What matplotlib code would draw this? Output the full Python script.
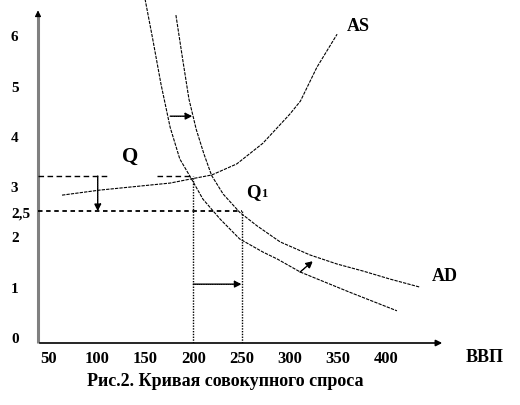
import matplotlib
matplotlib.use("Agg")
import matplotlib.pyplot as plt

# data (GDP on x, price level on y)
as_x = [64, 103, 155, 176, 197, 219, 245, 272, 300, 311, 328, 349]
as_y = [2.82, 2.92, 3.02, 3.06, 3.14, 3.22, 3.44, 3.85, 4.43, 4.69, 5.36, 6.02]

ad_x = [150, 158, 166.5, 176, 186, 197, 210, 228, 248, 272, 287, 311, 362, 411]
ad_y = [6.72, 5.92, 5.03, 4.17, 3.54, 3.18, 2.74, 2.34, 1.95, 1.69, 1.55, 1.29, 0.89, 0.52]

ad1_x = [182, 189, 195.5, 203, 211, 219, 231, 248, 266, 290, 321, 349, 376, 404, 435]
ad1_y = [6.40, 5.52, 4.73, 4.13, 3.64, 3.21, 2.84, 2.48, 2.21, 1.89, 1.63, 1.45, 1.31, 1.15, 0.99]

q_price, q1_price = 3.2, 2.5
q_gdp, q1_gdp = 200, 250

x_ticks = [50, 100, 150, 200, 250, 300, 350, 400]
y_ticks = [0, 1, 2, 2.5, 3, 4, 5, 6]
y_tick_labels = ["0", "1", "2", "2,5", "3", "4", "5", "6"]

W, H = 520, 406
x0, y0 = 39.1, -0.12

fig = plt.figure(figsize=(W / 100, H / 100), dpi=100)
ax = fig.add_axes([38 / W, (H - 344) / H, (445 - 38) / W, 344 / H])
ax.set_xlim(x0, 460.8)
ax.set_ylim(y0, 6.72)
for s in ax.spines.values():
    s.set_visible(False)

bold = dict(family="Liberation Serif", weight="bold")

ax.set_xticks(x_ticks)
ax.set_xticklabels([str(v) for v in x_ticks], fontsize=12, **bold)
ax.set_yticks(y_ticks)
ax.set_yticklabels(y_tick_labels, fontsize=11, **bold)
ax.tick_params(axis="x", length=0, pad=5)
ax.tick_params(axis="y", length=0, pad=19.5)
for t in ax.get_yticklabels():
    t.set_horizontalalignment("left")

# axes with arrows
ax.plot([x0, x0], [y0, 6.4], color="#808080", lw=2.2, clip_on=False, solid_capstyle="butt")
ax.annotate("", xy=(x0, 6.55), xytext=(x0, 6.35),
            arrowprops=dict(arrowstyle="-|>", color="black", lw=0.8, mutation_scale=9),
            annotation_clip=False)
ax.annotate("", xy=(460.8, y0), xytext=(x0 - 1, y0),
            arrowprops=dict(arrowstyle="-|>", color="black", lw=1.2, mutation_scale=9),
            annotation_clip=False)

# curves
curve = dict(color="black", lw=0.8, linestyle=(0, (3, 1)))
ax.plot(as_x, as_y, **curve)
ax.plot(ad_x, ad_y, **curve)
ax.plot(ad1_x, ad1_y, **curve)

# guide lines
ax.plot([x0, 114], [q_price, q_price], color="black", lw=1, linestyle=(0, (4, 2.5)))
ax.plot([162, q_gdp - 3], [q_price, q_price], color="black", lw=1, linestyle=(0, (4, 2.5)))
ax.plot([x0, q1_gdp], [q1_price, q1_price], color="black", lw=1.3, linestyle=(0, (2.5, 2)))
ax.plot([q_gdp, q_gdp], [y0, q_price], color="black", lw=1, linestyle=(0, (1, 1)))
ax.plot([q1_gdp, q1_gdp], [y0, q1_price], color="black", lw=1, linestyle=(0, (1, 1)))

# shift arrows
arr = dict(arrowstyle="-|>", color="black", lw=1, linestyle=(0, (1, 0.6)),
           mutation_scale=10, shrinkA=0, shrinkB=0)
ax.annotate("", xy=(199, 4.39), xytext=(176, 4.39), arrowprops=arr)
ax.annotate("", xy=(101, q1_price), xytext=(101, q_price), arrowprops=arr)
ax.annotate("", xy=(q1_gdp, 1.05), xytext=(q_gdp, 1.05), arrowprops=arr)
ax.annotate("", xy=(324, 1.51), xytext=(310.6, 1.29), arrowprops=arr)

# labels
ax.text(135, 3.6, "Q", fontsize=15, ha="center", va="center", **bold)
ax.text(262, 2.9, "Q", fontsize=13.5, ha="center", va="center", **bold)
ax.annotate("1", xy=(262, 2.9), xytext=(8, -1.5), textcoords="offset points",
            fontsize=9, ha="center", va="center", **bold)
ax.text(370.7, 6.2, "AS", fontsize=13, ha="center", va="center", **bold)
ax.text(460.8, 1.23, "AD", fontsize=13, ha="center", va="center", clip_on=False, **bold)

fig.text(485 / W, 1 - 358 / H, "ВВП", fontsize=13, ha="center", va="center", **bold)
fig.text(225 / W, 1 - 382 / H, "Рис.2. Кривая совокупного спроса", fontsize=13,
         ha="center", va="center", **bold)

fig.savefig("out.png", dpi=100, facecolor="white")
